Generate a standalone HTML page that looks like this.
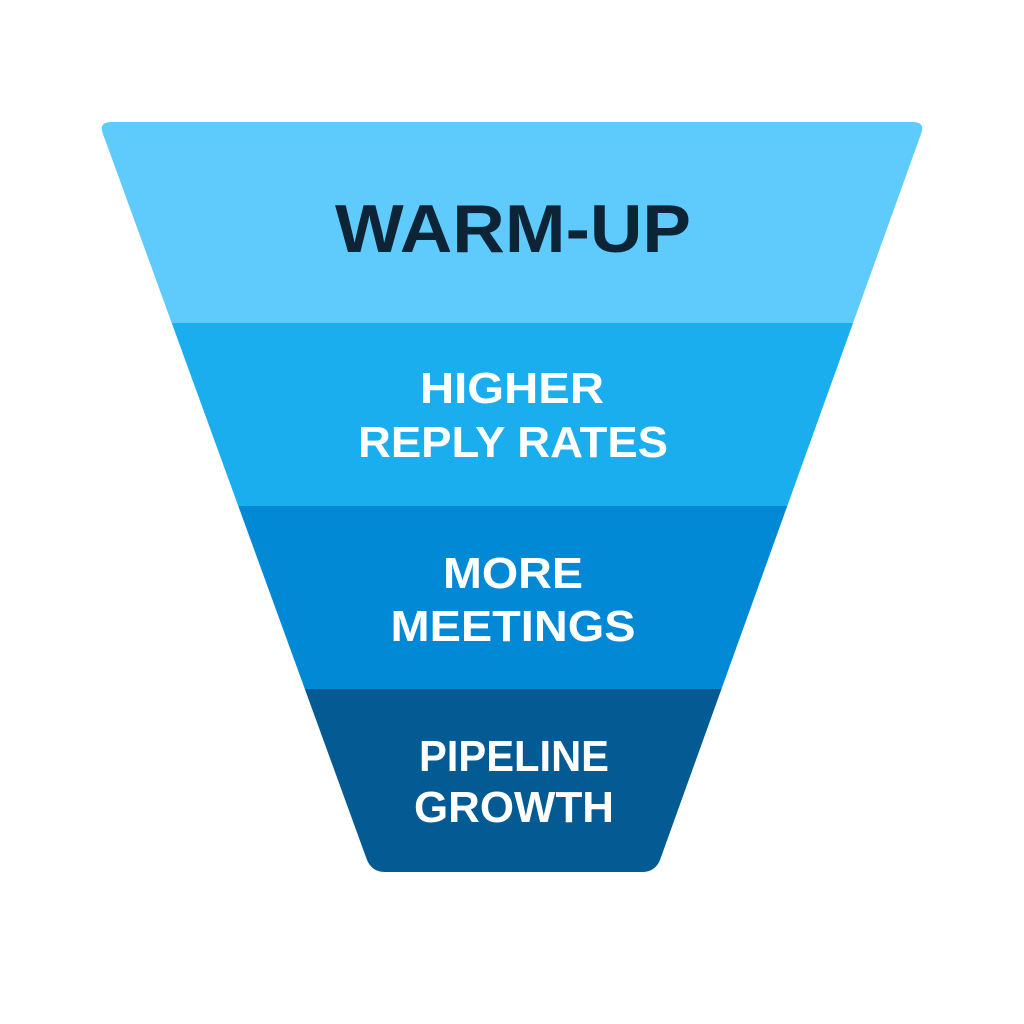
<!DOCTYPE html>
<html><head><meta charset="utf-8"><style>
html,body{margin:0;padding:0;background:#fff;width:1024px;height:1024px;overflow:hidden}
text{font-family:"Liberation Sans",sans-serif;font-weight:bold;text-anchor:middle}
</style></head><body>
<svg width="1024" height="1024" viewBox="0 0 1024 1024" xmlns="http://www.w3.org/2000/svg">
<defs><clipPath id="f"><path d="M112,122 L912,122 Q926,122 921,134 L660,860 Q655,872 642,872 L385,872 Q372,872 367,860 L103,134 Q98,122 112,122 Z"/></clipPath></defs>
<g clip-path="url(#f)">
<rect x="0" y="120" width="1024" height="203" fill="#5ECBFC"/>
<rect x="0" y="323" width="1024" height="183" fill="#1AAEEF"/>
<rect x="0" y="506" width="1024" height="183" fill="#0289D6"/>
<rect x="0" y="689" width="1024" height="190" fill="#045B94"/>
</g>
<text x="513" y="252" font-size="68" fill="#0D2436" textLength="356" lengthAdjust="spacingAndGlyphs">WARM-UP</text>
<g fill="#fff" font-size="44">
<text x="512" y="403" textLength="184" lengthAdjust="spacingAndGlyphs">HIGHER</text>
<text x="513" y="457" textLength="310" lengthAdjust="spacingAndGlyphs">REPLY RATES</text>
<text x="513" y="588" textLength="140" lengthAdjust="spacingAndGlyphs">MORE</text>
<text x="513" y="641" textLength="245" lengthAdjust="spacingAndGlyphs">MEETINGS</text>
<text x="514" y="771" textLength="190" lengthAdjust="spacingAndGlyphs">PIPELINE</text>
<text x="514" y="822" textLength="200" lengthAdjust="spacingAndGlyphs">GROWTH</text>
</g>
</svg>
</body></html>
